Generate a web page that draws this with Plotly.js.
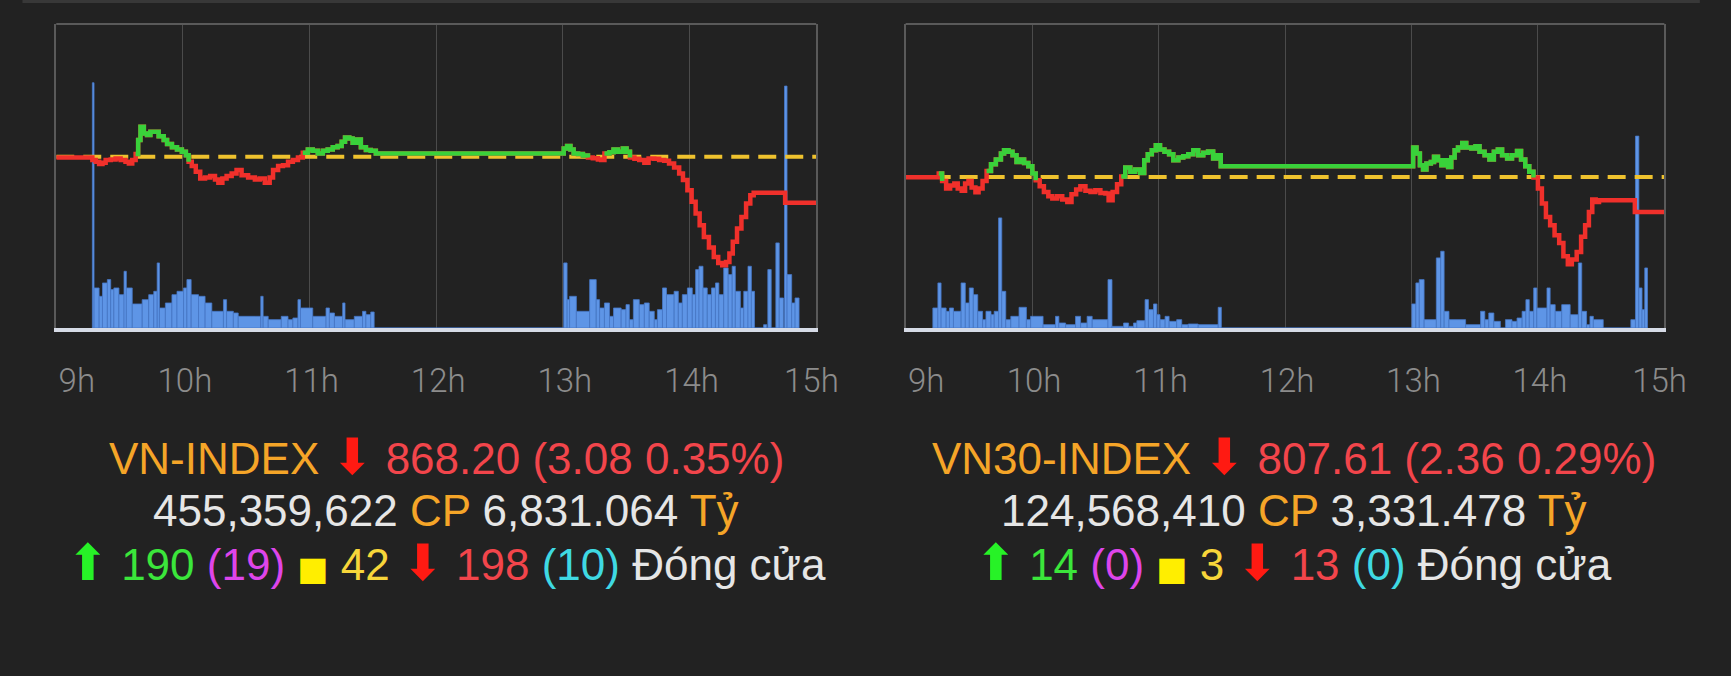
<!DOCTYPE html>
<html><head><meta charset="utf-8">
<script src="https://cdn.plot.ly/plotly-3.0.1.min.js"></script>
<style>html,body{margin:0;padding:0;background:#222222;}#chart{width:1731px;height:676px;}</style>
</head><body><div id="chart"></div>
<script>
// ---------- axis ticks (minutes after 9:00) ----------
const hourTicks = [0, 60, 120, 180, 240, 300, 360];
const hourLabels = ['9h', '10h', '11h', '12h', '13h', '14h', '15h'];

// ---------- VN-INDEX ----------
const vnClose = 868.20, vnChange = 3.08, vnPct = 0.35;
const vnShares = '455,359,622', vnValue = '6,831.064';
const vnUp = 190, vnCeil = 19, vnSame = 42, vnDown = 198, vnFloor = 10;
const vnTime = [0, 17.1, 18.7, 20.3, 21.9, 23.4, 25.8, 28.1, 30.5, 32.8, 34.4, 36.0, 37.6, 38.8, 39.9, 41.5, 43.0, 44.6, 47.0, 48.5, 50.9, 52.5, 54.8, 57.2, 59.5, 61.4, 62.7, 64.2, 66.1, 68.2, 70.5, 72.9, 75.2, 76.8, 78.7, 80.7, 83.1, 85.4, 87.8, 90.9, 94.1, 96.4, 98.8, 101.1, 102.7, 105.1, 107.4, 109.8, 112.1, 114.5, 116.8, 119.2, 121.5, 123.9, 126.3, 128.6, 131.0, 133.3, 135.2, 136.8, 138.8, 140.4, 142.4, 144.3, 146.7, 149.0, 151.4,
  240.4, 242.0, 243.6, 245.1, 247.2, 249.5, 251.9, 254.2, 256.6, 258.2, 259.7, 262.1, 264.0, 266.0, 268.4, 270.2, 271.8, 273.9, 276.2, 278.6, 280.6, 283.3, 285.6, 288.0, 290.3, 292.7, 295.1, 296.9, 299.0, 301.0, 302.9, 304.8, 306.8, 309.2, 311.5, 313.6, 315.5, 317.3, 318.9, 320.5, 322.5, 324.6, 326.8, 328.8, 330.4, 345.3, 360];
const vnIndex = [871.24, 871.06, 870.95, 870.79, 870.88, 871.06, 871.10, 871.17, 871.06, 870.95, 870.83, 871.06, 871.46, 872.40, 873.29, 872.84, 872.73, 872.95, 872.95, 872.66, 872.40, 872.13, 871.91, 871.77, 871.61, 871.39, 870.95, 870.66, 870.28, 869.83, 869.90, 869.99, 869.76, 869.54, 869.83, 869.99, 870.16, 870.39, 870.05, 869.90, 869.76, 869.83, 869.54, 869.90, 870.39, 870.66, 870.72, 870.95, 871.06, 871.24, 871.55, 871.77, 871.68, 871.50, 871.68, 871.77, 871.91, 872.00, 872.28, 872.57, 872.51, 872.22, 872.44, 871.91, 871.73, 871.68, 871.50,
  871.84, 872.00, 871.77, 871.50, 871.46, 871.37, 871.24, 871.19, 871.10, 871.06, 871.50, 871.59, 871.77, 871.61, 871.84, 871.61, 871.24, 871.15, 871.06, 870.88, 871.17, 871.15, 871.06, 871.01, 870.83, 870.57, 870.16, 869.72, 869.05, 868.27, 867.49, 866.70, 865.92, 865.21, 864.58, 864.18, 864.03, 864.25, 864.81, 865.59, 866.48, 867.26, 868.16, 868.71, 868.87, 868.20, 868.20];
const vnVolTime = [17.1, 17.9, 20.3, 21.9, 24.2, 25.8, 27.3, 29.7, 32.1, 33.2, 36.0, 40.7, 43.8, 46.2, 47.8, 48.9, 51.7, 54.8, 57.2, 60.3, 61.9, 63.9, 67.4, 70.5, 73.7, 79.2, 80.7, 83.9, 86.2, 96.9, 98.0, 100.4, 106.6, 109.8, 112.1, 114.5, 115.7, 121.5, 127.8, 129.4, 131.8, 135.7, 136.8, 141.2, 145.1, 146.7, 149.0, 150.6,
  240.4, 242.0, 243.2, 246.4, 252.7, 255.8, 257.4, 259.7, 262.1, 264.0, 267.6, 269.9, 271.5, 273.4, 276.2, 278.6, 280.9, 283.3, 284.8, 287.2, 289.1, 292.7, 294.7, 296.6, 299.0, 301.3, 302.9, 304.5, 306.4, 308.4, 310.4, 312.3, 313.9, 316.2, 318.3, 320.2, 321.7, 324.1, 325.7, 327.7, 329.3, 330.8, 335.1, 336.6, 337.1, 338.7, 340.9, 342.5, 344.5, 345.0, 346.2, 348.4, 350.0, 351.9];
const vnVol = [73.5, 12.0, 9.5, 13.5, 14.5, 11.5, 12.0, 10.0, 17.0, 12.0, 7.2, 8.5, 10.0, 11.0, 19.5, 6.0, 7.5, 10.0, 11.0, 12.0, 14.5, 10.0, 9.5, 7.5, 5.0, 8.5, 5.0, 4.5, 3.5, 9.5, 3.5, 2.5, 3.5, 2.5, 3.0, 8.5, 6.0, 3.5, 6.0, 4.5, 3.5, 7.5, 2.5, 3.5, 5.0, 4.0, 4.8, 0,
  19.5, 8.5, 9.5, 5.0, 14.5, 8.5, 6.0, 7.5, 3.5, 6.0, 5.5, 7.0, 2.5, 8.5, 7.0, 7.5, 5.0, 2.5, 5.5, 12.0, 10.0, 11.0, 7.5, 10.0, 12.0, 10.0, 17.5, 18.5, 12.0, 10.0, 12.0, 13.5, 10.0, 18.0, 16.0, 18.5, 11.0, 6.0, 11.0, 18.5, 11.0, 0, 1.0, 0, 17.5, 0, 25.5, 9.0, 0, 72.5, 16.0, 7.5, 9.0, 0];

// ---------- VN30-INDEX ----------
const v30Close = 807.61, v30Change = 2.36, v30Pct = 0.29;
const v30Shares = '124,568,410', v30Value = '3,331.478';
const v30Up = 14, v30Ceil = 0, v30Same = 3, v30Down = 13, v30Floor = 0;
const v30Time = [0, 15.7, 17.3, 19.2, 21.1, 23.1, 24.7, 26.6, 28.2, 29.8, 31.3, 33.1, 34.6, 36.5, 38.4, 40.5, 42.8, 45.2, 46.7, 48.8, 50.7, 52.6, 54.1, 56.2, 58.2, 60.1, 61.7, 63.6, 65.6, 67.7, 69.6, 71.9, 74.3, 76.7, 78.7, 80.9, 82.9, 85.3, 87.7, 90.0, 92.4, 94.8, 96.3, 98.2, 100.3, 102.3, 104.2, 106.6, 108.9, 111.3, 113.2, 114.9, 116.8, 118.7, 120.7, 122.8, 125.0, 127.0, 129.4, 131.7, 134.1, 136.5, 138.8, 141.2, 143.5, 145.9, 147.9, 149.5,
  240.8, 242.4, 244.0, 245.5, 247.1, 249.2, 250.7, 252.6, 254.2, 255.8, 257.4, 258.9, 260.5, 262.1, 264.1, 266.0, 268.4, 270.4, 272.3, 274.7, 277.0, 279.1, 281.0, 283.0, 285.4, 287.7, 290.1, 292.0, 294.0, 295.9, 297.9, 300.0, 301.9, 303.8, 305.8, 307.9, 310.1, 312.1, 314.2, 316.1, 318.4, 320.5, 322.4, 324.2, 325.8, 327.4, 329.0, 346.0, 360];
const v30Index = [809.95, 810.19, 809.70, 809.18, 809.39, 809.52, 809.18, 809.03, 809.52, 809.70, 809.25, 808.94, 809.18, 809.70, 810.37, 810.82, 811.14, 811.54, 811.77, 811.66, 811.43, 810.98, 811.14, 810.91, 810.69, 810.19, 809.75, 809.34, 808.96, 808.67, 808.51, 808.67, 808.44, 808.28, 808.80, 809.12, 809.34, 809.03, 808.96, 809.07, 808.89, 808.85, 808.40, 808.96, 809.48, 810.00, 810.60, 810.31, 810.46, 810.24, 811.09, 811.50, 811.77, 812.10, 811.81, 811.66, 811.50, 811.09, 811.27, 811.36, 811.50, 811.77, 811.43, 811.59, 811.68, 811.21, 811.43, 810.69,
  811.95, 811.54, 810.76, 810.46, 810.87, 810.98, 811.32, 811.09, 810.76, 811.09, 810.64, 811.27, 811.77, 811.95, 812.26, 811.95, 811.88, 812.04, 811.66, 811.43, 811.14, 811.66, 811.81, 811.43, 811.21, 811.43, 811.72, 811.14, 810.69, 810.31, 809.93, 809.18, 808.17, 807.27, 806.71, 806.04, 805.52, 804.62, 804.08, 804.40, 804.91, 805.93, 806.71, 807.61, 808.44, 808.28, 808.40, 807.61, 807.61];
const v30VolTime = [12.9, 15.3, 16.8, 19.2, 20.8, 22.7, 26.3, 28.3, 30.2, 32.1, 34.2, 36.5, 38.1, 40.5, 42.0, 44.1, 45.6, 47.5, 49.9, 53.8, 57.3, 59.3, 65.2, 71.1, 72.7, 75.9, 80.6, 83.0, 86.1, 88.5, 96.0, 97.9, 103.4, 105.8, 108.1, 109.7, 113.6, 115.2, 117.6, 119.2, 120.7, 123.1, 125.0, 128.6, 131.0, 134.1, 138.8, 148.3, 149.8,
  240.2, 242.1, 243.7, 246.0, 251.8, 253.9, 255.5, 257.8, 265.7, 272.8, 274.8, 276.7, 279.1, 282.2, 284.6, 287.7, 290.1, 292.5, 294.3, 295.9, 298.0, 299.5, 304.3, 305.8, 308.2, 311.3, 315.3, 319.2, 320.8, 323.1, 324.7, 326.3, 331.0, 344.1, 346.3, 347.9, 349.4, 350.7, 352.0];
const v30Vol = [6.0, 13.5, 6.0, 5.0, 6.0, 5.0, 13.5, 7.5, 12.0, 10.0, 5.0, 2.5, 5.0, 4.0, 5.0, 33.0, 11.0, 2.5, 3.5, 6.2, 2.5, 3.5, 1.0, 3.5, 1.5, 1.0, 3.5, 1.5, 3.5, 2.5, 14.5, 0.5, 1.5, 0.5, 1.5, 2.2, 8.5, 5.5, 7.2, 4.0, 2.5, 3.5, 2.0, 2.5, 1.0, 1.2, 1.0, 6.2, 0,
  7.2, 13.5, 14.5, 2.5, 21.0, 23.0, 5.0, 2.5, 1.0, 5.0, 2.5, 4.5, 2.0, 0, 2.5, 2.0, 3.0, 5.0, 8.5, 5.0, 12.0, 6.0, 12.0, 7.0, 5.0, 7.0, 4.0, 19.5, 5.0, 1.0, 3.5, 2.5, 0, 2.5, 57.5, 12.0, 5.5, 18.0, 0];

// ---------- styling ----------
const BG = '#222222';
const GREEN = '#39d13a', RED = '#f0302b', REFC = '#efc22e';
const VOLC = '#5e95e6', VOLLINE = '#4677c6';
const ORANGE = '#f5a528', WHITE = '#e6e6e6', REDTXT = '#f2454b', ARROWRED = '#ff1a12';

function lineTraces(t, v, ref, xa, ya) {
  const green = v.map((y, i) => (y >= ref || (i > 0 && v[i - 1] >= ref)) ? y : null);
  return [
    {x: [t[0], t[t.length - 1]], y: [ref, ref], xaxis: xa, yaxis: ya, type: 'scatter', mode: 'lines',
     line: {color: REFC, width: 4, dash: '18px,9px'}, hoverinfo: 'skip'},
    {x: t, y: v, xaxis: xa, yaxis: ya, type: 'scatter', mode: 'lines', line: {color: RED, width: 4.5, shape: 'hv'}},
    {x: t, y: green, xaxis: xa, yaxis: ya, type: 'scatter', mode: 'lines', connectgaps: false, line: {color: GREEN, width: 4.5, shape: 'hv'}}
  ];
}
function volTrace(t, v, xa, ya) {
  const x = [], y = [], w = [];
  for (let i = 0; i < t.length - 1; i++) { x.push(t[i]); y.push(v[i]); w.push(t[i + 1] - t[i]); }
  return {type: 'bar', x: x, y: y, width: w, offset: 0, xaxis: xa, yaxis: ya,
          marker: {color: VOLC, line: {color: VOLLINE, width: 0.8}}, hoverinfo: 'skip'};
}

const vnRef = +(vnClose + vnChange).toFixed(2);
const v30Ref = +(v30Close + v30Change).toFixed(2);

const traces = [
  volTrace(vnVolTime, vnVol, 'x', 'y'),
  ...lineTraces(vnTime, vnIndex, vnRef, 'x', 'y2'),
  volTrace(v30VolTime, v30Vol, 'x2', 'y3'),
  ...lineTraces(v30Time, v30Index, v30Ref, 'x2', 'y4')
];

// first label kept inside the frame, last one nudged left (as in the source widget)
const tickText = hourLabels.map((s, i) => i === 0 ? '\u2007\u2007' + s : (i === hourLabels.length - 1 ? s + '\u2009\u2009' : s));
const yDom = [0.5148, 0.9645];
function xAxis(dom) {
  return {domain: dom, range: [0, 360], tickvals: hourTicks, ticktext: tickText, ticks: '',
          showgrid: true, gridcolor: '#4b4b4b', gridwidth: 1, zeroline: false,
          showline: true, linecolor: '#d6dbe6', linewidth: 4, ticklabelstandoff: 20, ticklabelshift: 2,
          tickfont: {family: 'Roboto, Liberation Sans, sans-serif', size: 33, color: '#8c8c8c', weight: 300},
          fixedrange: true};
}
function volAxis() {
  return {domain: yDom, range: [0, 91.1], visible: true, showticklabels: false, ticks: '', showgrid: false,
          zeroline: false, showline: true, mirror: true, linecolor: '#5a5a5a', linewidth: 2, fixedrange: true};
}
function idxAxis(over, rng) {
  return {overlaying: over, range: rng, visible: false, showgrid: false, zeroline: false, fixedrange: true};
}

const F = 'Liberation Sans, Arial, sans-serif';
function sp(c, s) { return '<span style="color:' + c + '">' + s + '</span>'; }
const DOWN = '<span style="font-family:\'DejaVu Sans\';font-size:50px">⬇</span>';
const UP = '<span style="font-family:\'DejaVu Sans\';font-size:50px">⬆</span>';
const SQ = '<span style="font-family:\'DejaVu Sans\';font-size:33px">■</span>';
function lines(name, close, chg, pct, shares, value, up, ceil, same, down, floor) {
  return [
    sp(ORANGE, name) + ' ' + sp(ARROWRED, DOWN) + ' ' + sp(REDTXT, close.toFixed(2) + ' (' + chg.toFixed(2) + ' ' + pct.toFixed(2) + '%)'),
    sp(WHITE, shares) + ' ' + sp(ORANGE, 'CP') + ' ' + sp(WHITE, value) + ' ' + sp(ORANGE, 'Tỷ'),
    sp('#27f227', UP) + ' ' + sp('#3be63b', up) + ' ' + sp('#de45ea', '(' + ceil + ')') + ' ' +
      sp('#ffee00', SQ) + ' ' + sp('#f7d63a', same) + ' ' + sp(ARROWRED, DOWN) + ' ' +
      sp(REDTXT, down) + ' ' + sp('#3fd9e2', '(' + floor + ')') + ' ' + sp(WHITE, 'Đóng cửa')
  ];
}
const lineY = [0.3235, 0.2455, 0.167];
const annotations = [];
[[0.2577, lines('VN-INDEX', vnClose, vnChange, vnPct, vnShares, vnValue, vnUp, vnCeil, vnSame, vnDown, vnFloor)],
 [0.7475, lines('VN30-INDEX', v30Close, v30Change, v30Pct, v30Shares, v30Value, v30Up, v30Ceil, v30Same, v30Down, v30Floor)]]
 .forEach(([cx, ls]) => ls.forEach((txt, i) => annotations.push({
   xref: 'paper', yref: 'paper', x: cx, y: lineY[i], xanchor: 'center', yanchor: 'middle',
   text: txt, showarrow: false, font: {family: F, size: 44, color: WHITE}})));

const frameTop = (xa, ya) => ({type: 'line', xref: xa + ' domain', yref: ya + ' domain', x0: 0, x1: 1, y0: 1, y1: 1,
                              line: {color: '#5a5a5a', width: 2}});
const layout = {
  width: 1731, height: 676, margin: {l: 0, r: 0, t: 0, b: 0},
  paper_bgcolor: BG, plot_bgcolor: BG, showlegend: false, bargap: 0,
  xaxis: xAxis([0.0325, 0.4715]), xaxis2: xAxis([0.5232, 0.9615]),
  yaxis: volAxis(), yaxis2: idxAxis('y', [859.83, 880.16]),
  yaxis3: volAxis(), yaxis4: idxAxis('y3', [799.79, 820.27]),
  annotations: annotations,
  shapes: [frameTop('x', 'y'), frameTop('x2', 'y3'),
    {type: 'rect', xref: 'paper', yref: 'paper', x0: 0.013, x1: 0.982, y0: 0.9956, y1: 1, fillcolor: '#383838', line: {width: 0}, layer: 'below'}]
};
layout.yaxis2.anchor = 'x';
layout.yaxis3.anchor = 'x2';
layout.yaxis4.anchor = 'x2';
Plotly.newPlot('chart', traces, layout, {staticPlot: true, displayModeBar: false});
</script></body></html>
